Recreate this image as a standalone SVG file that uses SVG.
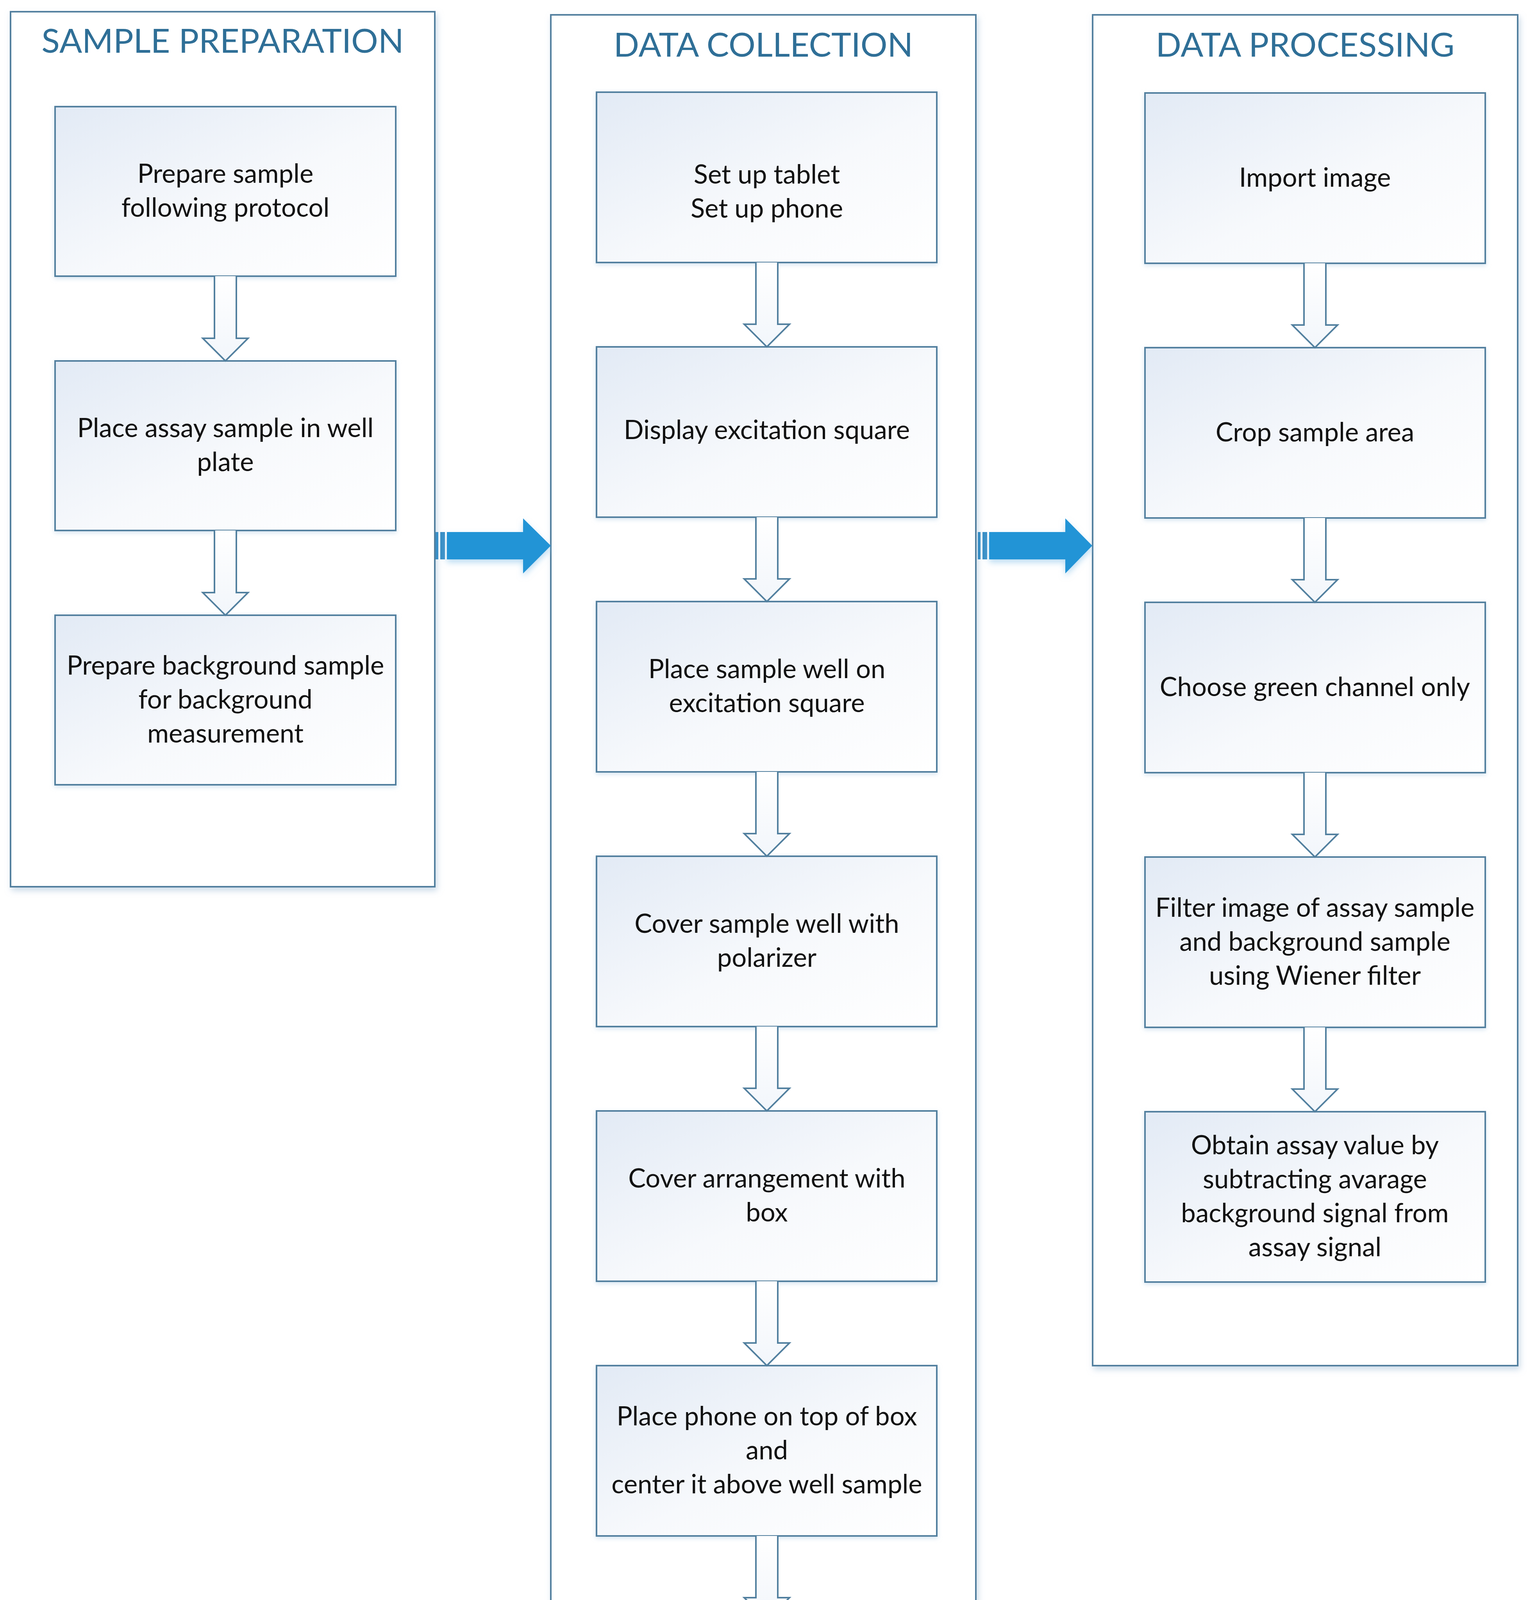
<svg xmlns="http://www.w3.org/2000/svg" width="3914" height="4755" viewBox="0 0 3914 4755">
<style>
.panel{fill:#ffffff;stroke:#52809f;stroke-width:4;filter:url(#pshadow)}
.box{fill:url(#boxfill);stroke:#52809f;stroke-width:4;filter:url(#bglow)}
.title{font-family:Lato,"Liberation Sans",sans-serif;font-size:86px;fill:#2f6f97;text-anchor:middle}
.t{font-family:Lato,"Liberation Sans",sans-serif;font-size:67px;fill:#111111;text-anchor:middle}
.down{fill:url(#arrowfill);stroke:#52809f;stroke-width:4;stroke-linejoin:miter}
.blue{fill:#2394d6;filter:url(#ashadow)}
.stripe{fill:#3a8fc6}
</style>
<defs>
<linearGradient id="boxfill" x1="0" y1="0" x2="1" y2="1">
<stop offset="0" stop-color="#e2eaf5"/>
<stop offset="0.55" stop-color="#f7f9fc"/>
<stop offset="1" stop-color="#ffffff"/>
</linearGradient>
<linearGradient id="arrowfill" x1="0" y1="0" x2="0" y2="1">
<stop offset="0" stop-color="#ffffff"/>
<stop offset="1" stop-color="#f2f6fb"/>
</linearGradient>
<filter id="pshadow" x="-5%" y="-5%" width="110%" height="110%">
<feDropShadow dx="4" dy="8" stdDeviation="8" flood-color="#a9c3da" flood-opacity="0.6"/>
</filter>
<filter id="bglow" x="-5%" y="-10%" width="110%" height="120%">
<feDropShadow dx="0" dy="4" stdDeviation="6" flood-color="#b7d0e6" flood-opacity="0.6"/>
</filter>
<filter id="ashadow" x="-10%" y="-30%" width="120%" height="160%">
<feDropShadow dx="0" dy="8" stdDeviation="8" flood-color="#8ec4ea" flood-opacity="0.6"/>
</filter>
</defs>
<rect width="3914" height="4755" fill="#ffffff"/>

<g id="panel-sample-preparation">
<rect class="panel" x="27" y="30" width="1086" height="2240"/>
<text class="title" x="570" y="135">SAMPLE PREPARATION</text>
</g>
<g id="panel-data-collection">
<rect class="panel" x="1410" y="38" width="1088" height="4693"/>
<text class="title" x="1954" y="145">DATA COLLECTION</text>
</g>
<g id="panel-data-processing">
<rect class="panel" x="2797" y="38" width="1088" height="3458"/>
<text class="title" x="3341" y="145">DATA PROCESSING</text>
</g>

<g id="sp1"><rect class="box" x="141" y="273" width="872" height="434"/>
<text class="t" x="577" y="468">Prepare sample</text><text class="t" x="577" y="555">following protocol</text></g>
<g id="sp2"><rect class="box" x="141" y="924" width="872" height="434"/>
<text class="t" x="577" y="1119">Place assay sample in well</text><text class="t" x="577" y="1206">plate</text></g>
<g id="sp3"><rect class="box" x="141" y="1575" width="872" height="434"/>
<text class="t" x="577" y="1727">Prepare background sample</text><text class="t" x="577" y="1814">for background</text><text class="t" x="577" y="1901">measurement</text></g>

<g id="dc1"><rect class="box" x="1527" y="236" width="871" height="436"/>
<text class="t" x="1963" y="470">Set up tablet</text><text class="t" x="1963" y="557">Set up phone</text></g>
<g id="dc2"><rect class="box" x="1527" y="888" width="871" height="436"/>
<text class="t" x="1963" y="1124">Display excitation square</text></g>
<g id="dc3"><rect class="box" x="1527" y="1540" width="871" height="436"/>
<text class="t" x="1963" y="1736">Place sample well on</text><text class="t" x="1963" y="1823">excitation square</text></g>
<g id="dc4"><rect class="box" x="1527" y="2192" width="871" height="436"/>
<text class="t" x="1963" y="2388">Cover sample well with</text><text class="t" x="1963" y="2475">polarizer</text></g>
<g id="dc5"><rect class="box" x="1527" y="2844" width="871" height="436"/>
<text class="t" x="1963" y="3040">Cover arrangement with</text><text class="t" x="1963" y="3127">box</text></g>
<g id="dc6"><rect class="box" x="1527" y="3496" width="871" height="436"/>
<text class="t" x="1963" y="3649">Place phone on top of box</text><text class="t" x="1963" y="3736">and</text><text class="t" x="1963" y="3823">center it above well sample</text></g>
<g id="dc7"><rect class="box" x="1527" y="4148" width="871" height="436"/>
<text class="t" x="1963" y="4301">Take image of sample well</text><text class="t" x="1963" y="4388">including both assay and</text><text class="t" x="1963" y="4475">background sample</text></g>

<g id="dp1"><rect class="box" x="2931" y="238" width="871" height="436"/>
<text class="t" x="3366" y="478">Import image</text></g>
<g id="dp2"><rect class="box" x="2931" y="890" width="871" height="436"/>
<text class="t" x="3366" y="1130">Crop sample area</text></g>
<g id="dp3"><rect class="box" x="2931" y="1542" width="871" height="436"/>
<text class="t" x="3366" y="1782">Choose green channel only</text></g>
<g id="dp4"><rect class="box" x="2931" y="2194" width="871" height="436"/>
<text class="t" x="3366" y="2347">Filter image of assay sample</text><text class="t" x="3366" y="2434">and background sample</text><text class="t" x="3366" y="2521">using Wiener filter</text></g>
<g id="dp5"><rect class="box" x="2931" y="2846" width="871" height="436"/>
<text class="t" x="3366" y="2955">Obtain assay value by</text><text class="t" x="3366" y="3042">subtracting avarage</text><text class="t" x="3366" y="3129">background signal from</text><text class="t" x="3366" y="3216">assay signal</text></g>

<g id="connectors">
<path class="down" d="M549,707 V866 H519 L577,924 L635,866 H605 V707"/>
<path class="down" d="M549,1358 V1517 H519 L577,1575 L635,1517 H605 V1358"/>

<path class="down" d="M1935,672 V830 H1905 L1963,888 L2021,830 H1991 V672"/>
<path class="down" d="M1935,1324 V1482 H1905 L1963,1540 L2021,1482 H1991 V1324"/>
<path class="down" d="M1935,1976 V2134 H1905 L1963,2192 L2021,2134 H1991 V1976"/>
<path class="down" d="M1935,2628 V2786 H1905 L1963,2844 L2021,2786 H1991 V2628"/>
<path class="down" d="M1935,3280 V3438 H1905 L1963,3496 L2021,3438 H1991 V3280"/>
<path class="down" d="M1935,3932 V4090 H1905 L1963,4148 L2021,4090 H1991 V3932"/>

<path class="down" d="M3338,674 V832 H3308 L3366,890 L3424,832 H3394 V674"/>
<path class="down" d="M3338,1326 V1484 H3308 L3366,1542 L3424,1484 H3394 V1326"/>
<path class="down" d="M3338,1978 V2136 H3308 L3366,2194 L3424,2136 H3394 V1978"/>
<path class="down" d="M3338,2630 V2788 H3308 L3366,2846 L3424,2788 H3394 V2630"/>

<g id="arrow-sp-dc">
<rect class="stripe" x="1115" y="1362" width="7" height="70"/>
<rect class="stripe" x="1127" y="1362" width="12" height="70"/>
<path class="blue" d="M1144,1362 H1339 V1327 L1410,1397 L1339,1468 V1432 H1144 Z"/>
</g>
<g id="arrow-dc-dp">
<rect class="stripe" x="2503" y="1362" width="7" height="70"/>
<rect class="stripe" x="2515" y="1362" width="12" height="70"/>
<path class="blue" d="M2532,1362 H2727 V1327 L2796,1397 L2727,1468 V1432 H2532 Z"/>
</g>
</g>
</svg>
